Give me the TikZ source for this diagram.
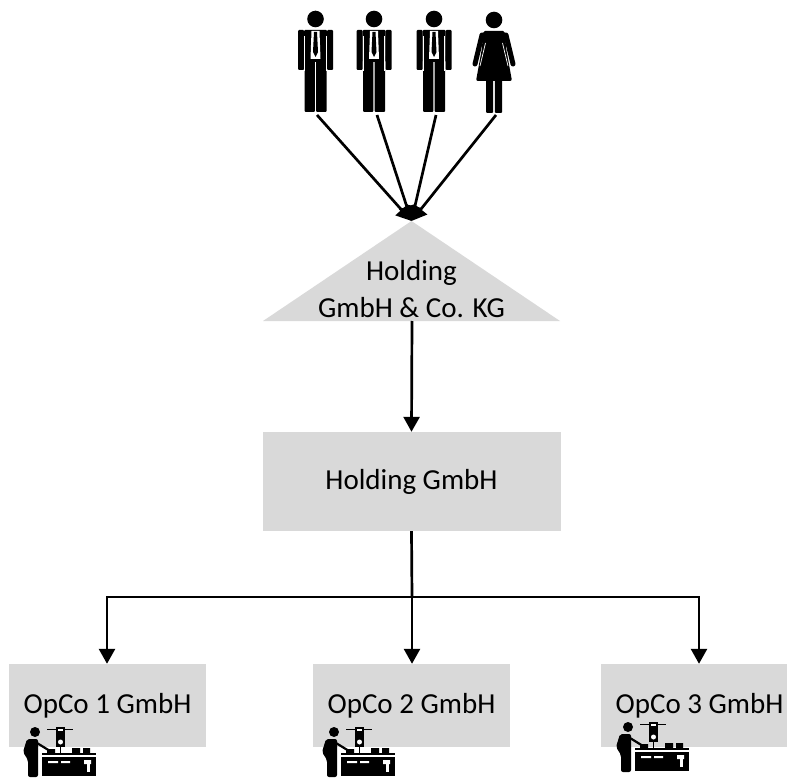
\documentclass[tikz,border=0pt]{standalone}
\usepackage{fontspec}
\setmainfont{Carlito}
\usetikzlibrary{arrows.meta}
\definecolor{boxgray}{HTML}{D9D9D9}
\tikzset{
  box/.style={fill=boxgray,inner sep=0pt,font=\fontsize{29}{37}\selectfont,align=center},
  opco/.style={box,minimum width=197pt,minimum height=83pt},
  link/.style={black,line width=2.7pt,-{Triangle[length=15pt,width=16pt]}},
  bar/.style={black,line width=2.7pt},
  man/.pic={
    \fill (0,19) circle [radius=8.3];
    \fill[rounded corners=1pt] (-17.5,30) rectangle (-11.5,70) (11.5,30) rectangle (17.5,70);
    \fill[rounded corners=1pt] (-11.5,30) rectangle (11.5,62);
    \fill[rounded corners=1pt] (-11,55) rectangle (-0.7,112);
    \fill[rounded corners=1pt] (0.7,55) rectangle (11,112);
    \draw[white,line width=0.7pt] (-10.8,36) -- (-10.8,71) (10.8,36) -- (10.8,71);
    \fill[white] (-4,31) -- (4,31) -- (5,59) -- (-5,59) -- cycle;
    \fill (-1.5,32) -- (1.5,32) -- (2.5,52) -- (0,57) -- (-2.5,52) -- cycle;
  },
  woman/.pic={
    \fill (0,20) circle [radius=8.3];
    \fill[rounded corners=2pt] (-11,31) -- (11,31) -- (12,48) -- (18,81) -- (-18,81) -- (-12,48) -- cycle;
    \fill[rounded corners=1pt] (-8,78) rectangle (-0.8,113) (0.8,78) rectangle (8,113);
    \draw[line width=5pt,line cap=round] (-12,35) -- (-19,64) (12,35) -- (19,64);
    \draw[white,line width=0.7pt] (-8.5,43) -- (-14,66) (8.5,43) -- (14,66);
  },
  worker/.pic={
    % operator
    \fill (35,732) circle [radius=5];
    \fill[rounded corners=2pt] (27,739) -- (38,739) -- (38,777) -- (28,777) -- (28,760) -- (23,752) -- cycle;
    \draw[line width=2.2pt] (37,743) -- (50,751);
    % machine
    \fill (42,753) rectangle (96,755);
    \fill (42,756.5) rectangle (96,776);
    \fill (47,749) rectangle (55,753) (72,748) rectangle (80,753) (83,748) rectangle (90,753);
    \fill[white] (48,761) rectangle (58,763) (61,761) rectangle (70,763) (84,760) rectangle (91,764);
    \fill[white] (87,764) rectangle (90,772);
    % hanging unit
    \draw[line width=0.7pt] (47,729) -- (73,729);
    \fill (56,727) rectangle (65,747);
    \fill[white] (58,729) rectangle (63,731);
    \fill[white] (60.5,742) circle [radius=2.5];
    \draw[line width=0.8pt] (60,747) -- (60,753);
  }
}
\begin{document}
\begin{tikzpicture}[x=1pt,y=-1pt]
\useasboundingbox (0,0) rectangle (787,778);
% Draw the owners and the points where their lines start
\pic at (315.5,0) {man};
\pic at (374,0) {man};
\pic at (434,0) {man};
\pic at (494,0) {woman};
\coordinate (owner1) at (317,115);
\coordinate (owner2) at (377,115);
\coordinate (owner3) at (436,115);
\coordinate (owner4) at (496,115);
% The triangle for the limited partnership
\fill[boxgray] (263,321) -- (411.5,221) -- (560,321) -- cycle;
\coordinate (apex) at (411.5,221);
\coordinate (base) at (412,321);
\node[font=\fontsize{29}{37}\selectfont,align=center] (kg) at (411.5,289) {Holding\\GmbH \& Co. KG};
% Boxes
\node[box,minimum width=298pt,minimum height=99pt] (holding) at (411.5,481.5) {Holding GmbH};
\node[opco] (opco1) at (107.5,705.5) {OpCo 1 GmbH};
\node[opco] (opco2) at (411.5,705.5) {OpCo 2 GmbH};
\node[opco] (opco3) at (699.5,705.5) {OpCo 3 GmbH};
% Connectors
\foreach \n in {1,...,4} \draw[link] (owner\n) -- (apex);
\draw[link] (base) -- (holding.north);
\coordinate (fork) at (412,597);
\coordinate (left) at (107,597);
\coordinate (right) at (699,597);
\draw[bar] (holding.south) -- (fork);
\draw[bar,line cap=rect] (left) -- (right);
\draw[link] (left) -- (left |- opco1.north);
\draw[link] (fork) -- (fork |- opco2.north);
\draw[link] (right) -- (right |- opco3.north);
% Operators in front of the boxes
\pic at (0,0) {worker};
\pic at (299,0) {worker};
\pic at (593,-5) {worker};
\end{tikzpicture}
\end{document}
